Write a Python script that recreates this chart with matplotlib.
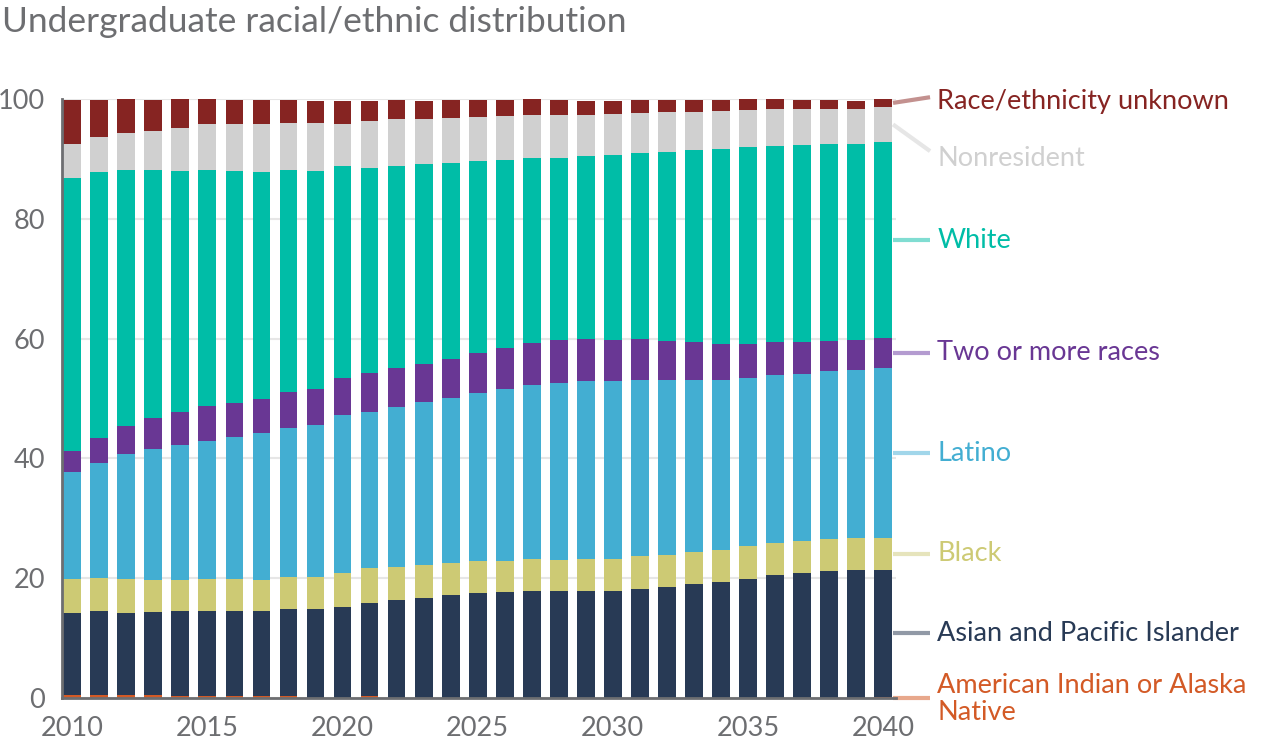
import numpy as np
import matplotlib
matplotlib.use("Agg")
import matplotlib.pyplot as plt

plt.rcParams['font.family'] = ['Lato', 'DejaVu Sans']

years = list(range(2010, 2041))

# cumulative tops (percent)
aian = [0.5, 0.5, 0.5, 0.5, 0.3, 0.3, 0.3, 0.3, 0.3, 0.0, 0.0, 0.3, 0.0, 0.0, 0.0, 0.0,
        0.0, 0.0, 0.0, 0.0, 0.0, 0.0, 0.0, 0.0, 0.0, 0.0, 0.0, 0.0, 0.0, 0.0, 0.2]
asian_top = [14.2, 14.5, 14.2, 14.4, 14.5, 14.5, 14.5, 14.5, 14.9, 14.9, 15.2, 15.9, 16.4, 16.7, 17.2,
             17.5, 17.7, 17.9, 17.9, 17.9, 17.9, 18.2, 18.5, 19.0, 19.4, 19.9, 20.5, 20.9, 21.2, 21.4, 21.4]
black_top = [19.9, 20.0, 19.9, 19.7, 19.7, 19.9, 19.9, 19.7, 20.2, 20.2, 20.9, 21.7, 21.9, 22.2, 22.5,
             22.9, 22.9, 23.2, 23.0, 23.2, 23.2, 23.7, 23.9, 24.4, 24.7, 25.4, 25.9, 26.2, 26.5, 26.7, 26.7]
latino_top = [37.7, 39.2, 40.7, 41.6, 42.2, 42.9, 43.6, 44.2, 45.1, 45.6, 47.2, 47.7, 48.6, 49.4, 50.1,
              50.9, 51.6, 52.3, 52.6, 52.9, 52.9, 53.1, 53.1, 53.1, 53.1, 53.4, 53.9, 54.1, 54.6, 54.8, 55.1]
multi_top = [41.3, 43.4, 45.4, 46.7, 47.7, 48.7, 49.2, 49.9, 51.1, 51.6, 53.4, 54.3, 55.1, 55.8, 56.6,
             57.6, 58.4, 59.3, 59.8, 59.9, 59.8, 59.9, 59.6, 59.4, 59.1, 59.1, 59.4, 59.4, 59.6, 59.8, 60.1]
white_top = [86.8, 87.8, 88.1, 88.1, 88.0, 88.1, 88.0, 87.8, 88.1, 88.0, 88.8, 88.5, 88.8, 89.1, 89.3,
             89.6, 89.8, 90.2, 90.2, 90.5, 90.7, 91.0, 91.2, 91.5, 91.7, 92.0, 92.2, 92.3, 92.5, 92.5, 92.8]
nonres_top = [92.5, 93.7, 94.3, 94.7, 95.2, 95.8, 95.8, 95.8, 96.0, 96.0, 95.8, 96.3, 96.7, 96.7, 96.8,
              97.0, 97.2, 97.3, 97.3, 97.3, 97.5, 97.7, 97.8, 97.8, 98.0, 98.2, 98.3, 98.3, 98.3, 98.3, 98.7]
unknown_top = [99.8, 99.8, 100, 99.8, 100, 100, 99.8, 99.8, 99.8, 99.7, 99.7, 99.7, 99.8, 99.7, 99.8,
               99.8, 99.8, 100, 99.8, 99.7, 99.7, 99.8, 99.8, 99.8, 99.8, 100, 100, 99.8, 99.8, 99.7, 100]

names = ["American Indian or Alaska\nNative", "Asian and Pacific Islander", "Black", "Latino",
         "Two or more races", "White", "Nonresident", "Race/ethnicity unknown"]
colors = ["#d35a26", "#283a55", "#cdca74", "#43aed2", "#693794", "#00bda7", "#d0d0d0", "#862422"]
line_colors = ["#e8a88c", "#9199a6", "#e6e4bc", "#a1d6ea", "#b49bd0", "#80ddd2", "#e6e6e6", "#c3918f"]

tops = np.array([aian, asian_top, black_top, latino_top, multi_top, white_top, nonres_top, unknown_top])
bottoms = np.vstack([np.zeros(len(years)), tops[:-1]])

fig = plt.figure(figsize=(12.79, 7.48), dpi=100)
ax = fig.add_axes([62 / 1279, 1 - 698 / 748, (896 - 62) / 1279, 599 / 748])

for i in range(len(names)):
    ax.bar(years, tops[i] - bottoms[i], bottom=bottoms[i], width=0.66,
           color=colors[i], zorder=3, linewidth=0)

ax.set_xlim(2009.62, 2040.48)
ax.set_ylim(0, 100)
ax.set_yticks([0, 20, 40, 60, 80, 100])
ax.set_xticks([2010, 2015, 2020, 2025, 2030, 2035, 2040])
ax.grid(axis='y', color='#e6e6e6', linewidth=1.5, zorder=0)
ax.tick_params(length=0, labelsize=19.5, labelcolor='#6d6e71')
ax.tick_params(axis='y', pad=12)
ax.tick_params(axis='x', pad=13)
for s in ['top', 'right']:
    ax.spines[s].set_visible(False)
for s in ['left', 'bottom']:
    ax.spines[s].set_color('#6d6e71')
    ax.spines[s].set_linewidth(2)
    ax.spines[s].set_zorder(4)

# right-hand labels with leader lines
last_mid = (tops[:, -1] + bottoms[:, -1]) / 2
label_y = last_mid.copy()
label_y[0] = -0.1
label_y[6] = 90.0
label_y[7] = 99.6
line_end = label_y.copy()
line_end[6] = 91.3
line_end[7] = 100.3
line_end[0] = 0.0
for i in range(len(names)):
    ax.plot([2040.37, 2041.74], [last_mid[i] if i != 0 else 0.0, line_end[i]],
            color=line_colors[i], linewidth=3, clip_on=False, zorder=2,
            solid_capstyle='butt')
    ax.text(2042.0, label_y[i], names[i], color=colors[i], fontsize=19.5,
            va='center', ha='left', clip_on=False, linespacing=1.1)

fig.text(2 / 1279, 1 - 22 / 748, "Undergraduate racial/ethnic distribution",
         fontsize=25.5, color='#6d6e71', va='center', ha='left')

fig.savefig("out.png", dpi=100)
